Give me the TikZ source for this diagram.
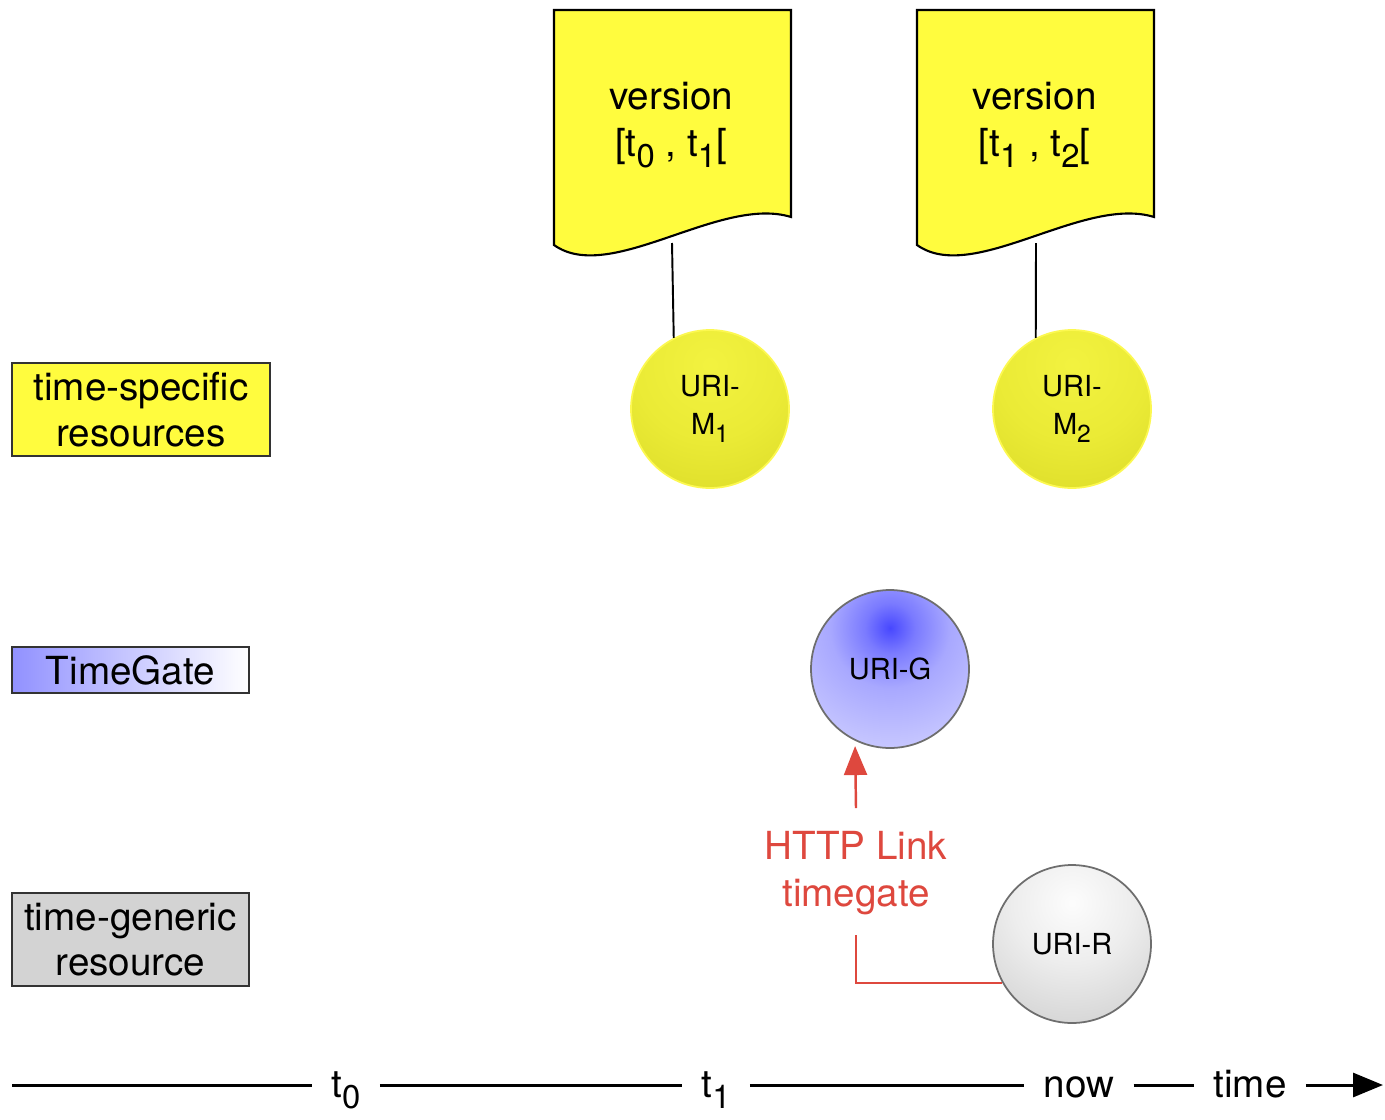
\documentclass[tikz,border=0pt]{standalone}
\usepackage{fontspec}
\usepackage{graphicx}
\setmainfont{TeX Gyre Heros}
\usetikzlibrary{arrows.meta}
\definecolor{docyellow}{RGB}{255,252,62}
\definecolor{linkred}{RGB}{222,72,62}
\definecolor{tgblue}{RGB}{145,145,255}
\definecolor{genericgray}{RGB}{211,211,211}
\definecolor{ringyellow}{RGB}{252,248,80}
\definecolor{ringgray}{RGB}{110,110,110}
\pgfdeclareradialshading{yglow}{\pgfpoint{0bp}{0bp}}{rgb(0bp)=(0.95,0.95,0.25); rgb(15bp)=(0.92,0.92,0.21); rgb(35bp)=(0.84,0.84,0.14); rgb(50bp)=(0.76,0.76,0.1)}
\pgfdeclareradialshading{bglow}{\pgfpoint{0bp}{0bp}}{rgb(0bp)=(0.28,0.28,1); rgb(5bp)=(0.48,0.48,1); rgb(12bp)=(0.66,0.66,1); rgb(25bp)=(0.79,0.79,1); rgb(50bp)=(0.9,0.9,1)}
\pgfdeclareradialshading{gglow}{\pgfpoint{0bp}{0bp}}{rgb(0bp)=(0.99,0.99,0.99); rgb(12bp)=(0.93,0.93,0.93); rgb(30bp)=(0.8,0.8,0.8); rgb(50bp)=(0.64,0.64,0.64)}
\newcommand\lsub[1]{\raisebox{-0.28em}{\scalebox{0.85}{#1}}}
\begin{document}
\begin{tikzpicture}[x=0.02cm,y=-0.02cm,
  legend/.style={draw=black!80, line width=1.3pt, inner sep=0pt, align=center, font=\fontsize{22}{26}\selectfont},
  ball/.style={circle, minimum size=3.16cm, inner sep=0pt, align=center, font=\fontsize{16.5}{21.5}\selectfont, line width=1pt},
  docshape/.style={draw=black, fill=docyellow, line width=1.2pt},
  doctext/.style={align=center, font=\fontsize{22}{27}\selectfont},
  conn/.style={line width=1.1pt},
  link/.style={draw=linkred, line width=1.4pt},
  tick/.style={font=\fontsize{22}{26}\selectfont, text height=14.7pt, text depth=0pt, inner xsep=0.38cm, inner ysep=0pt},
  axis/.style={line width=1.7pt}]
\useasboundingbox (0,0) rectangle (1385,1119);

% legend
\node[legend, fill=docyellow, minimum width=5.16cm, minimum height=1.86cm] (lspec) at (141,409.5) {time-specific\\resources};
\node[legend, left color=tgblue, right color=white, minimum width=4.74cm, minimum height=0.92cm] (lgate) at (130.5,670) {TimeGate};
\node[legend, fill=genericgray, minimum width=4.74cm, minimum height=1.86cm] (lgen) at (130.5,939.5) {time-generic\\resource};

% documents
\draw[docshape] (554,10) -- (791,10) -- (791,217) .. controls (720,195) and (610,285) .. (554,245) -- cycle;
\draw[docshape] (917,10) -- (1154,10) -- (1154,217) .. controls (1083,195) and (973,285) .. (917,245) -- cycle;
\node[doctext] (d1) at (671,125) {version\\{[}t\lsub{0} , t\lsub{1}{[}};
\node[doctext] (d2) at (1034.5,125) {version\\{[}t\lsub{1} , t\lsub{2}{[}};
\coordinate (d1b) at (672,243);
\coordinate (d2b) at (1036,243);

% ball shading
\coordinate (cM1) at (710,409);
\coordinate (cM2) at (1072,409);
\coordinate (cG) at (890,669);
\coordinate (cR) at (1072,944);
\begin{scope}
  \clip (cM1) circle[radius=79];
  \shade[shading=yglow] (710,365) circle[radius=125];
\end{scope}
\begin{scope}
  \clip (cM2) circle[radius=79];
  \shade[shading=yglow] (1072,365) circle[radius=125];
\end{scope}
\begin{scope}
  \clip (cG) circle[radius=79];
  \shade[shading=bglow] (890,628) circle[radius=125];
\end{scope}
\begin{scope}
  \clip (cR) circle[radius=79];
  \shade[shading=gglow] (1072,903) circle[radius=125];
\end{scope}

% balls
\node[ball, draw=ringyellow] (M1) at (cM1) {URI-\\M\lsub{1}};
\node[ball, draw=ringyellow] (M2) at (cM2) {URI-\\M\lsub{2}};
\node[ball, draw=ringgray] (G) at (cG) {URI-G};
\node[ball, draw=ringgray] (R) at (cR) {URI-R};

\draw[conn] (d1b) -- (M1.117);
\draw[conn] (d2b) -- (M2.117);

% link
\node[doctext, text=linkred] (lab) at (856,873) {HTTP Link\\timegate};
\coordinate (la) at (856,808);
\coordinate (lk) at (856,935);
\draw[link, -{Triangle[length=0.58cm,width=0.46cm]}, shorten >=3pt] (la) -- (G.244.5);
\draw[link] (lk) |- (R.209);

% timeline
\coordinate (tstart) at (12,1085);
\coordinate (tend) at (1383,1085);
\node[tick] (t0) at (346,1085) {t\lsub{0}};
\node[tick] (t1) at (716,1085) {t\lsub{1}};
\node[tick] (tnow) at (1079,1085) {now};
\node[tick] (ttime) at (1250,1085) {time};
\draw[axis] (tstart) -- (t0) -- (t1) -- (tnow) -- (ttime);
\draw[axis, -{Triangle[length=0.6cm,width=0.48cm]}] (ttime) -- (tend);
\end{tikzpicture}
\end{document}
